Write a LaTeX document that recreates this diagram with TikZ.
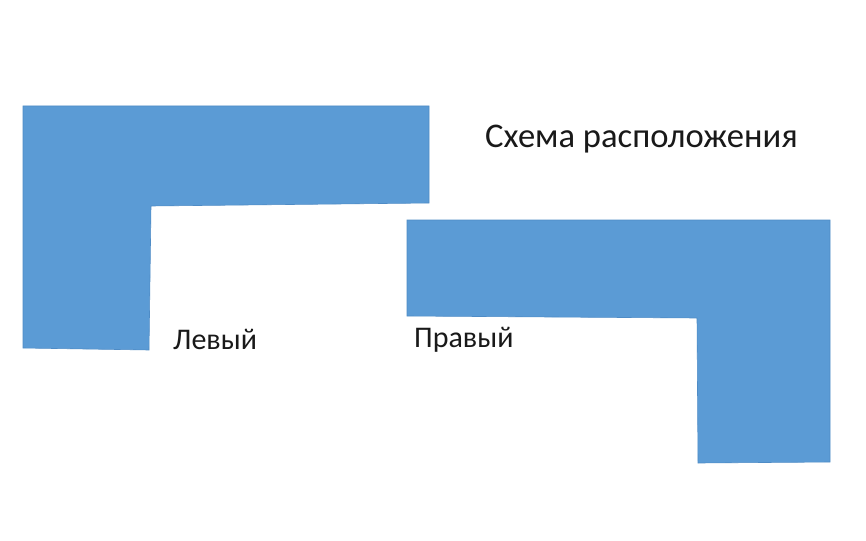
\documentclass[tikz,border=0pt]{standalone}
\usepackage{fontspec}
\setmainfont{Carlito}
\definecolor{shapeblue}{HTML}{5B9BD5}
\definecolor{edgeblue}{HTML}{4F8CC6}
\begin{document}
\begin{tikzpicture}[x=1pt,y=-1pt,
  lshape/.style={fill=shapeblue,draw=edgeblue,line width=0.6pt},
  label/.style={anchor=base west,inner sep=0pt,text=black!90}]
\useasboundingbox (0,0) rectangle (866,540);
\fill[white] (0,0) rectangle (866,540);
% left shape
\draw[lshape] (23,106) -- (429,106) -- (429,203) -- (151,206) -- (149,350) -- (23,348) -- cycle;
% right shape
\draw[lshape] (407,220) -- (830,220) -- (830,462) -- (698,463) -- (697,318) -- (407,316) -- cycle;
\node[label,font=\fontsize{34.6}{40}\selectfont] (title) at (485,148) {Схема расположения};
\node[label,font=\fontsize{30}{34}\selectfont] (left) at (173,349) {Левый};
\node[label,font=\fontsize{30}{34}\selectfont] (right) at (414,347) {Правый};
\end{tikzpicture}
\end{document}
